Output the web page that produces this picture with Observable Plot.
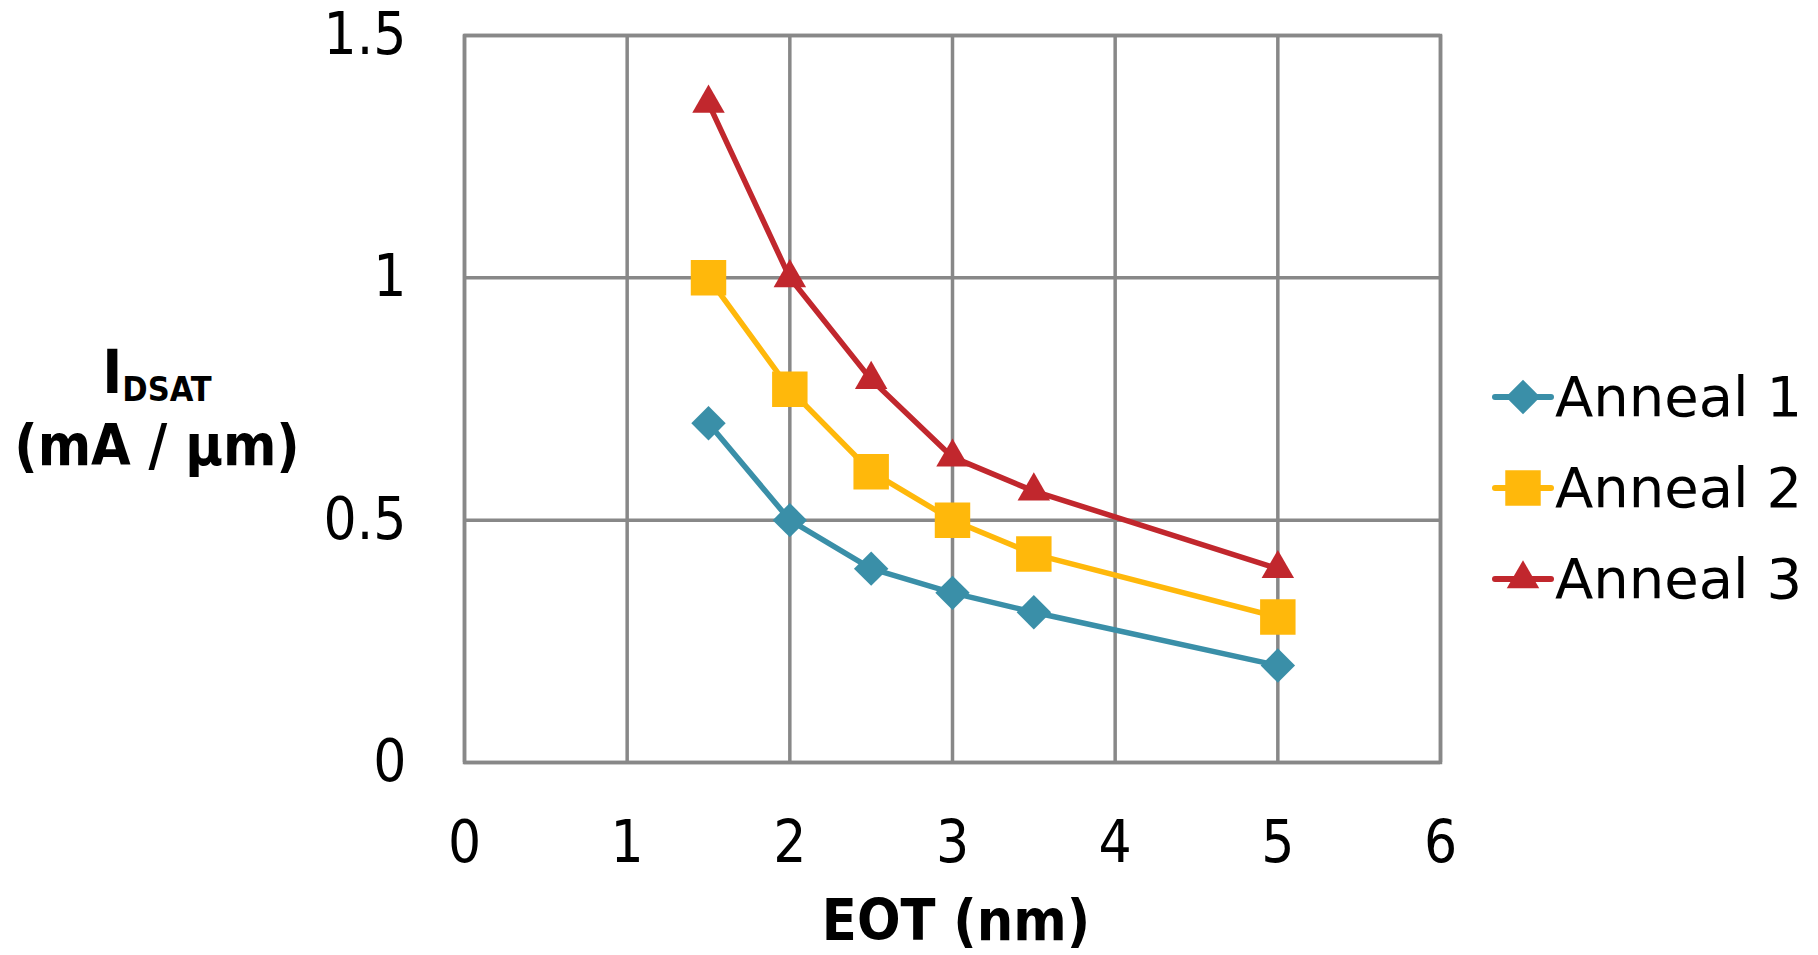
<!DOCTYPE html>
<html>
<head>
<meta charset="utf-8">
<script src="https://cdn.jsdelivr.net/npm/d3@7"></script>
<script src="https://cdn.jsdelivr.net/npm/@observablehq/plot@0.6"></script>
<style>
  html, body { margin: 0; padding: 0; background: #fff; }
  #wrap { position: relative; width: 1818px; height: 955px; overflow: hidden; }
  .lbl { position: absolute; font-family: "DejaVu Sans Condensed", "DejaVu Sans", sans-serif; color: #000; white-space: nowrap; }
  .legend { position: absolute; left: 1491px; top: 351px; font-family: "DejaVu Sans", sans-serif; font-size: 56px; }
  .legend .row { display: flex; align-items: center; height: 91px; }
  .legend svg { display: block; margin-right: 0px; }
</style>
</head>
<body>
<div id="wrap"></div>
<script>
const series = ["Anneal 1", "Anneal 2", "Anneal 3"];
const colors = ["#3A8FA8", "#FFB80B", "#C1272D"];
const symbols = ["diamond2", "square", "triangle2"];
const radii = [15.5, 20, 15.5];
const eot = [1.5, 2, 2.5, 3, 3.5, 5];
const anneal1 = [0.70, 0.50, 0.40, 0.35, 0.31, 0.20];
const anneal2 = [1.00, 0.77, 0.60, 0.50, 0.43, 0.30];
const anneal3 = [1.36, 1.00, 0.79, 0.63, 0.56, 0.40];
const xTicks = [0, 1, 2, 3, 4, 5, 6];
const yTicks = [0, 0.5, 1, 1.5];

const values = [anneal1, anneal2, anneal3];
const data = [];
series.forEach((s, i) => eot.forEach((x, j) => data.push({series: s, x, y: values[i][j]})));

const wrap = document.getElementById("wrap");

const marks = [
  Plot.gridX(xTicks, {stroke: "#888", strokeOpacity: 1, strokeWidth: 3.5}),
  Plot.gridY(yTicks, {stroke: "#888", strokeOpacity: 1, strokeWidth: 3.5}),
  Plot.frame({stroke: "#888", strokeWidth: 3.5}),
  Plot.axisX({ticks: xTicks, tickSize: 0, tickPadding: 58, fontSize: 58, label: null, tickFormat: d => String(d)}),
  Plot.axisY({ticks: yTicks, tickSize: 0, tickPadding: 58, fontSize: 58, label: null, tickFormat: d => String(d)})
];
series.forEach((s, i) => {
  const d = data.filter(r => r.series === s);
  marks.push(Plot.line(d, {x: "x", y: "y", stroke: colors[i], strokeWidth: 5.5}));
  marks.push(Plot.dot(d, {x: "x", y: "y", fill: colors[i], symbol: symbols[i], r: radii[i], stroke: "none"}));
});

const chart = Plot.plot({
  width: 1818,
  height: 955,
  marginLeft: 464,
  marginRight: 378,
  marginTop: 35,
  marginBottom: 193,
  x: {domain: [0, 6]},
  y: {domain: [0, 1.5]},
  style: {fontFamily: "'DejaVu Sans Condensed', 'DejaVu Sans', sans-serif", color: "#000", background: "#fff"},
  marks
});
chart.style.position = "absolute";
chart.style.left = "0px";
chart.style.top = "0px";
wrap.appendChild(chart);

// axis titles
const xt = document.createElement("div");
xt.className = "lbl";
xt.style.cssText = "left:956px; top:920px; transform:translate(-50%,-50%); font-size:57px; font-weight:bold; line-height:60px;";
xt.textContent = "EOT (nm)";
wrap.appendChild(xt);

const yt = document.createElement("div");
yt.className = "lbl";
yt.style.cssText = "left:157px; top:408px; transform:translate(-50%,-50%); font-size:57px; font-weight:bold; text-align:center; line-height:56px;";
yt.innerHTML = '<span style="font-size:60px;">I</span><sub style="font-size:34px; vertical-align:-8px;">DSAT</sub><br>(mA / µm)';
wrap.appendChild(yt);

// legend
const leg = document.createElement("div");
leg.className = "legend";
series.forEach((s, i) => {
  const row = document.createElement("div");
  row.className = "row";
  const sym = d3.symbol(d3[{diamond2: "symbolDiamond2", square: "symbolSquare", triangle2: "symbolTriangle2"}[symbols[i]]], Math.PI * radii[i] * radii[i])();
  row.innerHTML = `<svg width="64" height="60" viewBox="-32 -30 64 60"><line x1="-28" x2="28" y1="0" y2="0" stroke="${colors[i]}" stroke-width="6" stroke-linecap="round"/><path d="${sym}" fill="${colors[i]}"/></svg><span>${s}</span>`;
  leg.appendChild(row);
});
wrap.appendChild(leg);
</script>
</body>
</html>
